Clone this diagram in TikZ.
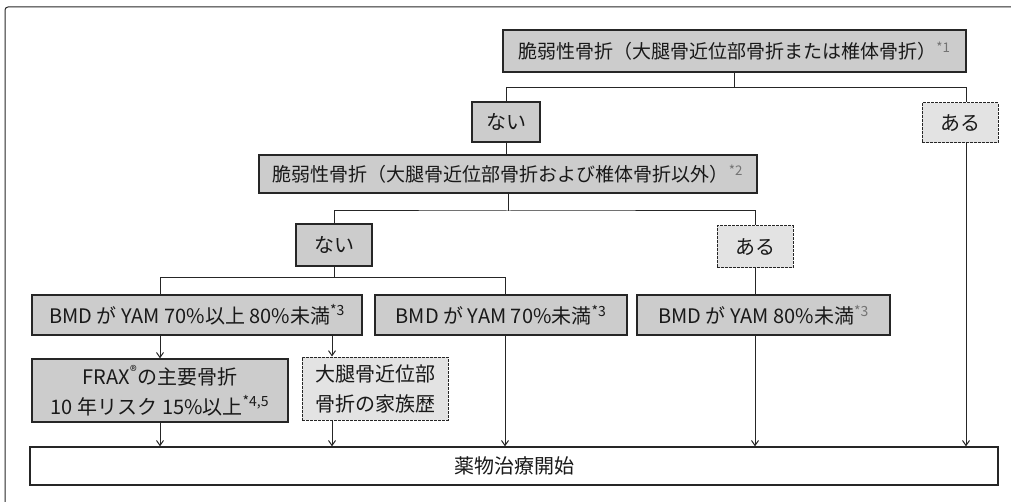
\documentclass[tikz,border=0pt]{standalone}
\usepackage{fontspec}
\setmainfont{Noto Sans CJK JP}
\usetikzlibrary{arrows.meta}
\definecolor{darkfill}{gray}{0.80}
\definecolor{lightfill}{gray}{0.89}
\definecolor{edge}{gray}{0.15}
\tikzset{
  base/.style={inner sep=0pt, align=center, font=\fontsize{20}{30}\selectfont, text=black!90},
  longtext/.style={font=\fontsize{19}{28}\selectfont},
  dbox/.style={base, draw=edge, line width=1.3pt, fill=darkfill},
  lbox/.style={base, draw=edge, line width=1pt, dash pattern=on 3pt off 1pt, fill=lightfill},
  wbox/.style={base, draw=edge, line width=1.3pt, fill=white},
  conn/.style={draw=edge, line width=1pt},
  arr/.style={conn, -{Straight Barb[length=5pt,width=7pt]}}
}
\begin{document}
\begin{tikzpicture}[x=1pt,y=-1pt]
\useasboundingbox (0,0) rectangle (1011,502);
% outer frame
\draw[edge, line width=1pt, rounded corners=3pt] (5,502) -- (5,7) -- (1011,7);

% columns / junctions
\coordinate (colA) at (160,0);
\coordinate (colB) at (332,0);
\coordinate (colC) at (505,0);
\coordinate (colE) at (966,88);
\coordinate (h2) at (508,211);
\coordinate (h3l) at (160,278);
\coordinate (h3r) at (505,278);

% nodes
\node[dbox, longtext, minimum width=463pt, minimum height=42pt] (A) at (734.5,51)
  {脆弱性骨折（大腿骨近位部骨折または椎体骨折）\textsuperscript{\color{black!55}*1}};
\node[dbox, minimum width=68pt, minimum height=40pt] (nai1) at (506,122) {ない};
\node[lbox, minimum width=76pt, minimum height=40pt] (aru1) at (960,123) {ある};
\node[dbox, longtext, minimum width=498pt, minimum height=38pt] (B) at (508,174)
  {脆弱性骨折（大腿骨近位部骨折および椎体骨折以外）\textsuperscript{\color{black!55}*2}};
\node[dbox, minimum width=76pt, minimum height=42pt] (nai2) at (334,245) {ない};
\node[lbox, minimum width=76pt, minimum height=42pt] (aru2) at (755,247) {ある};
\node[dbox, minimum width=330pt, minimum height=40pt] (bmd1) at (197,315)
  {BMD が YAM 70\%以上 80\%未満\textsuperscript{*3}};
\node[dbox, minimum width=252pt, minimum height=40pt] (bmd2) at (501,315)
  {BMD が YAM 70\%未満\textsuperscript{*3}};
\node[dbox, minimum width=253pt, minimum height=40pt] (bmd3) at (763.5,315)
  {BMD が YAM 80\%未満\textsuperscript{\color{black!55}*3}};
\node[dbox, minimum width=256pt, minimum height=63pt] (frax) at (160,390.5)
  {FRAX\textsuperscript{®}の主要骨折\\10 年リスク 15\%以上\textsuperscript{*4,5}};
\node[lbox, minimum width=146pt, minimum height=63pt] (fam) at (375,388.5)
  {大腿骨近位部\\骨折の家族歴};
\node[wbox, minimum width=968pt, minimum height=38pt] (end) at (514,466) {薬物治療開始};

% connectors
\draw[conn] (A.south) -- (A.south |- colE);
\draw[conn] (nai1.north) |- (colE) -- (colE |- aru1.north);
\draw[conn] (nai1.south) -- (nai1.south |- B.north);
\draw[conn] (B.south) -- (h2);
\draw[conn] (nai2.north) |- (h2) -| (aru2.north);
\draw[conn] (nai2.south) -- (nai2.south |- h3l);
\draw[conn] (h3l |- bmd1.north) -- (h3l) -- (h3r) -- (h3r |- bmd2.north);
\draw[conn] (aru2.south) -- (aru2.south |- bmd3.north);

\draw[arr] (colA |- bmd1.south) -- (colA |- frax.north);
\draw[arr] (colB |- bmd1.south) -- (colB |- fam.north);
\draw[arr] (colA |- frax.south) -- (colA |- end.north);
\draw[arr] (colB |- fam.south) -- (colB |- end.north);
\draw[arr] (colC |- bmd2.south) -- (colC |- end.north);
\draw[arr] (aru2.south |- bmd3.south) -- (aru2.south |- end.north);
\draw[arr] (colE |- aru1.south) -- (colE |- end.north);
\end{tikzpicture}
\end{document}
